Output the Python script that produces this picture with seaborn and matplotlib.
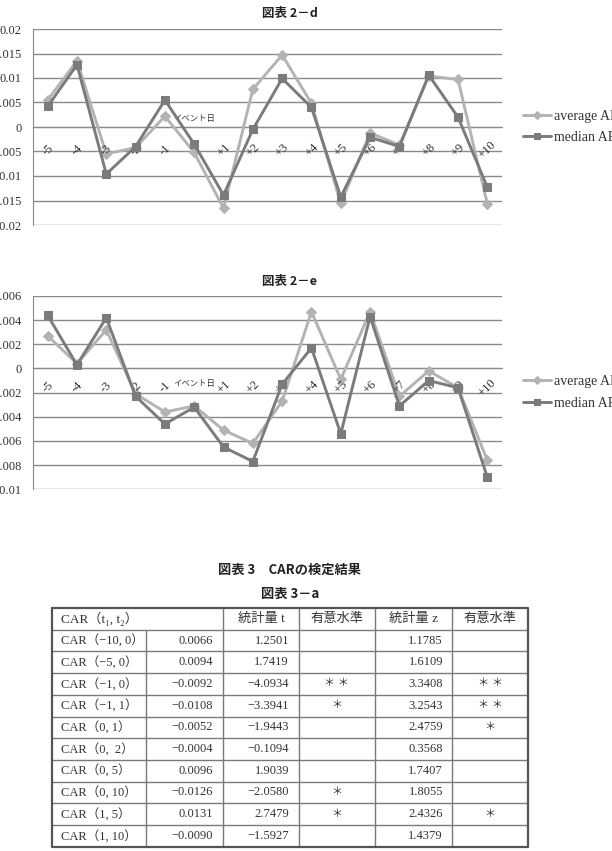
import numpy as np
import pandas as pd
import matplotlib
matplotlib.use('Agg')
import matplotlib.pyplot as plt
import seaborn as sns
from matplotlib.ticker import FuncFormatter

# Plain white style, serif text with a CJK fallback
sns.set_style('white')
plt.rcParams['font.family'] = ['Liberation Serif', 'DejaVu Serif', 'Noto Sans CJK JP']

# Event window (days around the event)
day_labels = ['-5', '-4', '-3', '-2', '-1', 'イベント日', '+1', '+2', '+3', '+4',
              '+5', '+6', '+7', '+8', '+9', '+10']

# Chart 2-d
avg_ar_d = [0.0055, 0.0135, -0.0055, -0.0042, 0.0022, -0.0052, -0.0166, 0.0077,
            0.0147, 0.0048, -0.0156, -0.0012, -0.0037, 0.0104, 0.0097, -0.0157]
med_ar_d = [0.0042, 0.0127, -0.0096, -0.0040, 0.0055, -0.0035, -0.0139, -0.0005,
            0.0099, 0.0040, -0.0143, -0.0021, -0.0040, 0.0106, 0.0020, -0.0123]

# Chart 2-e
avg_ar_e = [0.0027, 0.0004, 0.0032, -0.0021, -0.0036, -0.0031, -0.0051, -0.0062,
            -0.0027, 0.0047, -0.0009, 0.0047, -0.0023, -0.0002, -0.0016, -0.0076]
med_ar_e = [0.0044, 0.0003, 0.0042, -0.0023, -0.0046, -0.0032, -0.0065, -0.0077,
            -0.0013, 0.0017, -0.0054, 0.0043, -0.0031, -0.0010, -0.0016, -0.0090]

# Table 3-a
car_windows = ['CAR（−10, 0）', 'CAR（−5, 0）', 'CAR（−1, 0）', 'CAR（−1, 1）',
               'CAR（0, 1）', 'CAR（0,  2）', 'CAR（0, 5）', 'CAR（0, 10）',
               'CAR（1, 5）', 'CAR（1, 10）']
car_values = [0.0066, 0.0094, -0.0092, -0.0108, -0.0052, -0.0004, 0.0096, -0.0126,
              0.0131, -0.0090]
t_stats = [1.2501, 1.7419, -4.0934, -3.3941, -1.9443, -0.1094, 1.9039, -2.0580,
           2.7479, -1.5927]
t_signif = ['', '', '＊ ＊', '＊', '', '', '', '＊', '＊', '']
z_stats = [1.1785, 1.6109, 3.3408, 3.2543, 2.4759, 0.3568, 1.7407, 1.8055, 2.4326,
           1.4379]
z_signif = ['', '', '＊ ＊', '＊ ＊', '＊', '', '', '', '＊', '']
table_header = ['CAR（t₁, t₂）', '統計量 t', '有意水準', '統計量 z', '有意水準']

AVG_COLOR = '#b3b3b3'
MED_COLOR = '#7b7b7b'
GRID_COLOR = '#8a8a8a'
TEXT_COLOR = '#333333'
SANS_JP = ['Noto Sans CJK JP', 'DejaVu Sans']

W, H = 612, 851
fig = plt.figure(figsize=(W / 100, H / 100), dpi=100)


def fmt_tick(v, pos):
    v = round(v, 4)
    if abs(v) < 1e-9:
        return '0'
    return f'{v:g}'


def draw_ar_chart(rect, avg, med, ylim, ystep, label_off, event_off, legend_y):
    """Excel-style line chart of average / median abnormal returns"""
    ax = fig.add_axes(rect)
    df = pd.DataFrame({'day': np.arange(len(day_labels)),
                       'average AR': avg, 'median AR': med})

    sns.lineplot(data=df, x='day', y='average AR', ax=ax, color=AVG_COLOR,
                 linewidth=2.1, marker='D', markersize=5.5, markeredgecolor=AVG_COLOR,
                 label='average AR', zorder=3)
    sns.lineplot(data=df, x='day', y='median AR', ax=ax, color=MED_COLOR,
                 linewidth=2.1, marker='s', markersize=6, markeredgecolor=MED_COLOR,
                 label='median AR', zorder=4)

    ax.set_xlim(-0.5, len(day_labels) - 0.5)
    ax.set_ylim(*ylim)
    ax.set_yticks(np.arange(ylim[0], ylim[1] + ystep / 2, ystep))
    ax.yaxis.set_major_formatter(FuncFormatter(fmt_tick))
    ax.yaxis.grid(True, color=GRID_COLOR, linewidth=1)
    ax.set_xlabel('')
    ax.set_ylabel('')

    # category axis crosses at zero, ticks on category boundaries
    for s in ['top', 'right']:
        ax.spines[s].set_visible(False)
    ax.spines['bottom'].set_position(('data', 0))
    ax.spines['bottom'].set_color(GRID_COLOR)
    ax.spines['left'].set_color(GRID_COLOR)
    ax.set_xticks(np.arange(-0.5, len(day_labels), 1))
    ax.set_xticklabels([])
    ax.tick_params(axis='x', direction='out', length=4, color=GRID_COLOR, width=1)
    ax.tick_params(axis='y', length=0, pad=8, labelsize=9, labelcolor=TEXT_COLOR)

    for i, lab in enumerate(day_labels):
        if lab == 'イベント日':
            ax.annotate(lab, xy=(i, 0), xytext=(0, event_off), textcoords='offset points',
                        ha='center', va='center', fontsize=6, color=TEXT_COLOR)
        else:
            ax.annotate(lab, xy=(i, 0), xytext=(0, label_off), textcoords='offset points',
                        ha='center', va='center', rotation=45, fontsize=9,
                        color=TEXT_COLOR)

    ax.legend(loc='center left', bbox_to_anchor=(523 / W, 1 - legend_y / H),
              bbox_transform=fig.transFigure, frameon=False, fontsize=10,
              handlelength=2.0, handletextpad=0.2, labelspacing=0.6, markerscale=0.7,
              borderpad=0, borderaxespad=0, labelcolor=TEXT_COLOR)
    return ax


draw_ar_chart([33 / W, 1 - 225 / H, 469 / W, 196 / H], avg_ar_d, med_ar_d,
              (-0.02, 0.02), 0.005, -16.5, 6, 127)
draw_ar_chart([33 / W, 1 - 489.3 / H, 469 / W, 193.3 / H], avg_ar_e, med_ar_e,
              (-0.01, 0.006), 0.002, -13.7, -11.5, 392.5)

# Overlay in pixel coordinates for titles and the table
ov = fig.add_axes([0, 0, 1, 1])
ov.set_xlim(0, W)
ov.set_ylim(H, 0)
ov.axis('off')
ov.patch.set_alpha(0)

ov.text(290, 14, '図表 2－d', ha='center', va='center', fontsize=9,
        fontweight='bold', family=SANS_JP, color='#222222')
ov.text(290, 282, '図表 2－e', ha='center', va='center', fontsize=9,
        fontweight='bold', family=SANS_JP, color='#222222')
ov.text(290, 570, '図表 3　CARの検定結果', ha='center', va='center', fontsize=9.5,
        fontweight='bold', family=SANS_JP, color='#222222')
ov.text(290, 594, '図表 3－a', ha='center', va='center', fontsize=9.5,
        fontweight='bold', family=SANS_JP, color='#222222')

# Table grid
col_x = [52, 146, 223, 299, 375, 452, 528]
row_top, row_h = 608, 21.7
n_rows = len(car_windows) + 1
row_bottom = row_top + n_rows * row_h
line_kw = dict(color='#7a7a7a', linewidth=1)

for r in range(1, n_rows):
    y = row_top + r * row_h
    ov.plot([col_x[0], col_x[-1]], [y, y], **line_kw)
for j, x in enumerate(col_x[1:-1], start=1):
    y0 = row_top + row_h if j == 1 else row_top
    ov.plot([x, x], [y0, row_bottom], **line_kw)
ov.plot([col_x[0], col_x[-1], col_x[-1], col_x[0], col_x[0]],
        [row_top, row_top, row_bottom, row_bottom, row_top],
        color='#555555', linewidth=1.6)

# header row
hy = row_top + row_h / 2
ov.text(col_x[0] + 9, hy, table_header[0], ha='left', va='center', fontsize=9.5,
        color=TEXT_COLOR)
for k, lab in enumerate(table_header[1:], start=2):
    ov.text((col_x[k] + col_x[k + 1]) / 2, hy, lab, ha='center', va='center',
            fontsize=9.5, color=TEXT_COLOR)


def num(v):
    return f'{v:.4f}'.replace('-', '−')


for i in range(len(car_windows)):
    y = row_top + (i + 1.5) * row_h
    ov.text(col_x[0] + 9, y, car_windows[i], ha='left', va='center', fontsize=9,
            color=TEXT_COLOR)
    ov.text(col_x[2] - 10, y, num(car_values[i]), ha='right', va='center',
            fontsize=9, color=TEXT_COLOR)
    ov.text(col_x[3] - 10, y, num(t_stats[i]), ha='right', va='center',
            fontsize=9, color=TEXT_COLOR)
    ov.text((col_x[3] + col_x[4]) / 2, y, t_signif[i], ha='center', va='center',
            fontsize=8, color=TEXT_COLOR)
    ov.text(col_x[5] - 9, y, num(z_stats[i]), ha='right', va='center',
            fontsize=9, color=TEXT_COLOR)
    ov.text((col_x[5] + col_x[6]) / 2, y, z_signif[i], ha='center', va='center',
            fontsize=8, color=TEXT_COLOR)

fig.savefig('out.png', dpi=100)
